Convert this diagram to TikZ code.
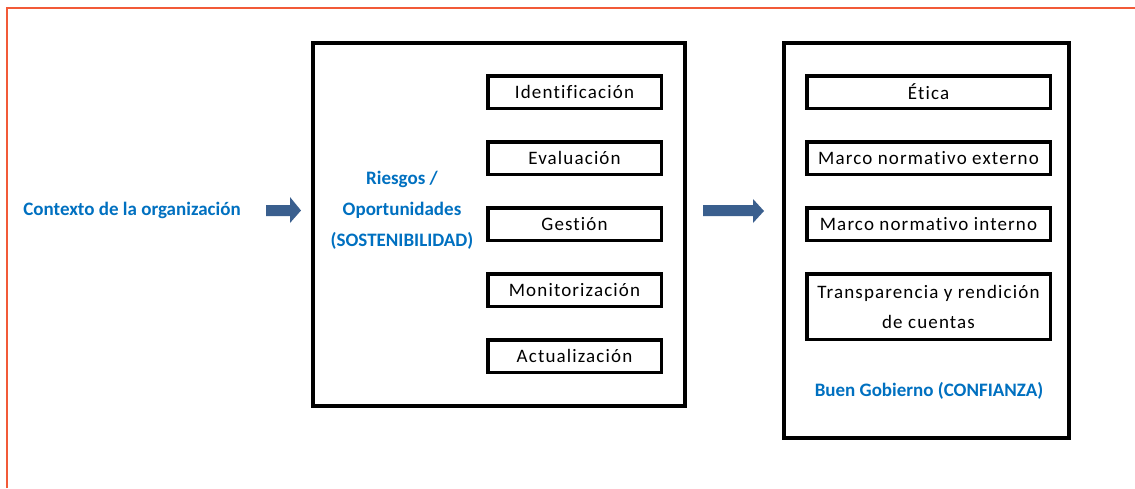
\documentclass[tikz,border=0pt]{standalone}
\usepackage{fontspec}
\setmainfont{Carlito}
\newfontfamily\spaced[LetterSpace=6,Ligatures=NoCommon]{Carlito}
\definecolor{bluetxt}{HTML}{0070C0}
\definecolor{arrowc}{HTML}{3A5F8E}
\definecolor{framec}{HTML}{F25A38}
\begin{document}
\begin{tikzpicture}[x=1pt,y=-1pt,
  outerbox/.style={draw=black,line width=4pt},
  item/.style={draw=black,line width=3.5pt,inner sep=0pt,align=center,
    font=\spaced\fontsize{19}{30}\selectfont},
  litem/.style={item,minimum width=173.5pt,minimum height=32.5pt},
  ritem/.style={item,minimum width=243.5pt,minimum height=32.5pt},
  bluelabel/.style={text=bluetxt,font=\bfseries\fontsize{19}{31}\selectfont,align=center,inner sep=0pt},
  blockarrow/.style={fill=arrowc,draw=none}]
\useasboundingbox (0,0) rectangle (1135,488);
% frame
\draw[framec,line width=2pt] (7,488) -- (7,8) -- (1135,8);
% left box
\draw[outerbox] (313,43) rectangle (685,406);
\node[bluelabel] (ctx) at (132,210) {Contexto de la organización};
\node[bluelabel] (ries) at (402,210) {Riesgos /\\Oportunidades\\(SOSTENIBILIDAD)};
\node[litem] (ident) at (574.5,92) {Identificación};
\node[litem] (eval) at (574.5,158) {Evaluación};
\node[litem] (gest) at (574.5,224) {Gestión};
\node[litem] (moni) at (574.5,290) {Monitorización};
\node[litem] (actu) at (574.5,356) {Actualización};
% right box
\draw[outerbox] (784,43) rectangle (1069,438);
\node[ritem] (etica) at (928.5,92) {Ética};
\node[ritem] (mext) at (928.5,158) {Marco normativo externo};
\node[ritem] (mint) at (928.5,224) {Marco normativo interno};
\node[ritem,minimum height=65.5pt] (transp) at (928.5,306.5) {Transparencia y rendición\\de cuentas};
\node[bluelabel] (buen) at (929,391) {Buen Gobierno (CONFIANZA)};
% arrows
\fill[blockarrow] (266,205) -- (290,205) -- (290,197) -- (301,210.5) -- (290,223) -- (290,216) -- (266,216) -- cycle;
\fill[blockarrow] (703,205) -- (753,205) -- (753,199) -- (764,211) -- (753,223) -- (753,216) -- (703,216) -- cycle;
\end{tikzpicture}
\end{document}
